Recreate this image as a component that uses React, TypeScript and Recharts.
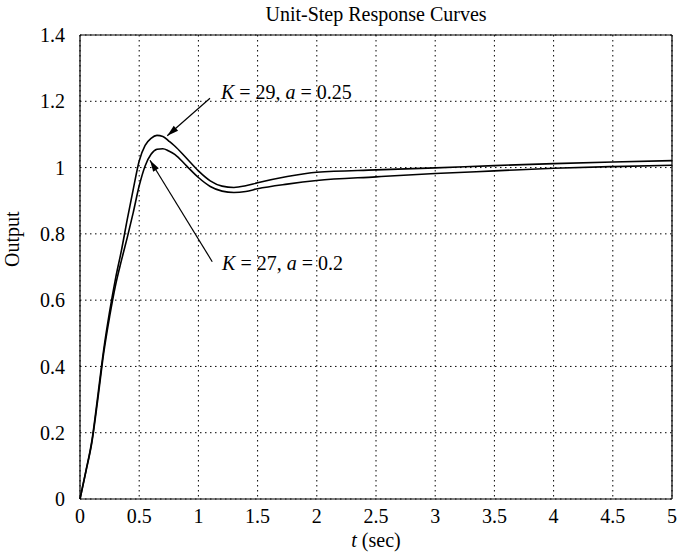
import { LineChart, Line, XAxis, YAxis, CartesianGrid, ReferenceLine, ReferenceDot } from 'recharts';

const times = [0, 0.05, 0.1, 0.15, 0.2, 0.25, 0.3, 0.35, 0.4, 0.45, 0.5, 0.55, 0.6, 0.65, 0.7, 0.75, 0.8, 0.9, 1.0, 1.1, 1.2, 1.3, 1.4, 1.5, 1.75, 2, 2.5, 3, 3.5, 4, 4.5, 5];

// K = 29, a = 0.25
const outputK29 = [0, 0.085, 0.175, 0.31, 0.45, 0.565, 0.665, 0.75, 0.845, 0.935, 1.02, 1.067, 1.088, 1.097, 1.094, 1.08, 1.065, 1.028, 0.99, 0.96, 0.944, 0.94, 0.945, 0.954, 0.973, 0.986, 0.993, 0.999, 1.006, 1.012, 1.017, 1.021];

// K = 27, a = 0.2
const outputK27 = [0, 0.083, 0.17, 0.3, 0.44, 0.55, 0.645, 0.72, 0.79, 0.865, 0.945, 1.005, 1.04, 1.055, 1.057, 1.05, 1.04, 1.005, 0.97, 0.943, 0.929, 0.925, 0.928, 0.936, 0.95, 0.961, 0.972, 0.982, 0.99, 0.998, 1.003, 1.007];

const xTicks = [0, 0.5, 1, 1.5, 2, 2.5, 3, 3.5, 4, 4.5, 5];
const yTicks = [0, 0.2, 0.4, 0.6, 0.8, 1, 1.2, 1.4];

const data = times.map((t, i) => ({ t, k29: outputK29[i], k27: outputK27[i] }));

const FONT = '"Liberation Serif", "Times New Roman", serif';

const Arrow = (props: any) => {
  const { x1, y1, x2, y2 } = props;
  const ang = Math.atan2(y2 - y1, x2 - x1);
  const len = 12;
  const spread = 0.28;
  const ax = x2 - len * Math.cos(ang - spread);
  const ay = y2 - len * Math.sin(ang - spread);
  const bx = x2 - len * Math.cos(ang + spread);
  const by = y2 - len * Math.sin(ang + spread);
  return (
    <g>
      <line x1={x1} y1={y1} x2={x2} y2={y2} stroke="#000" strokeWidth={1.2} />
      <polygon points={`${x2},${y2} ${ax},${ay} ${bx},${by}`} fill="#000" />
    </g>
  );
};

const annotation = (k: string, a: string) => (p: any) => (
  <text x={p.cx} y={p.cy} fontFamily={FONT} fontSize={20} fill="#000">
    <tspan fontStyle="italic">K</tspan> = {k}, <tspan fontStyle="italic">a</tspan> = {a}
  </text>
);

const XLabel = (p: any) => {
  const vb = p.viewBox;
  return (
    <text x={vb.x + vb.width / 2} y={547} textAnchor="middle" fontFamily={FONT} fontSize={20} fill="#000">
      <tspan fontStyle="italic">t</tspan> (sec)
    </text>
  );
};

export default function App() {
  return (
    <div style={{ position: 'absolute', left: 0, top: 0, background: '#fff' }}>
      <LineChart width={679} height={557} data={data} margin={{ top: 35, right: 7, left: 0, bottom: 0 }}>
        <text x={376} y={21} textAnchor="middle" fontFamily={FONT} fontSize={20} fill="#000">
          Unit-Step Response Curves
        </text>
        <CartesianGrid stroke="#000" strokeDasharray="1.5 3.5" strokeWidth={1} />
        <XAxis
          dataKey="t"
          type="number"
          domain={[0, 5]}
          ticks={xTicks}
          height={58}
          tickSize={0}
          tickMargin={10}
          axisLine={{ stroke: '#000', strokeWidth: 1.2 }}
          tick={{ fill: '#000', fontSize: 20, fontFamily: FONT }}
          label={<XLabel />}
        />
        <YAxis
          type="number"
          domain={[0, 1.4]}
          ticks={yTicks}
          width={80}
          tickSize={0}
          tickMargin={15}
          axisLine={{ stroke: '#000', strokeWidth: 1.2 }}
          tick={{ fill: '#000', fontSize: 20, fontFamily: FONT }}
          label={{ value: 'Output', angle: -90, position: 'insideLeft', offset: 12, fill: '#000', fontSize: 20, fontFamily: FONT }}
        />
        <ReferenceLine y={1.4} stroke="#000" strokeWidth={1.2} />
        <ReferenceLine x={5} stroke="#000" strokeWidth={1.2} />
        <Line type="monotone" dataKey="k29" stroke="#000" strokeWidth={1.6} dot={false} isAnimationActive={false} />
        <Line type="monotone" dataKey="k27" stroke="#000" strokeWidth={1.6} dot={false} isAnimationActive={false} />
        <ReferenceLine segment={[{ x: 1.098, y: 1.209 }, { x: 0.737, y: 1.096 }]} shape={Arrow} ifOverflow="visible" />
        <ReferenceLine segment={[{ x: 1.117, y: 0.716 }, { x: 0.591, y: 1.022 }]} shape={Arrow} ifOverflow="visible" />
        <ReferenceDot x={1.19} y={1.207} r={0} ifOverflow="visible" shape={annotation('29', '0.25')} />
        <ReferenceDot x={1.2} y={0.692} r={0} ifOverflow="visible" shape={annotation('27', '0.2')} />
      </LineChart>
    </div>
  );
}
